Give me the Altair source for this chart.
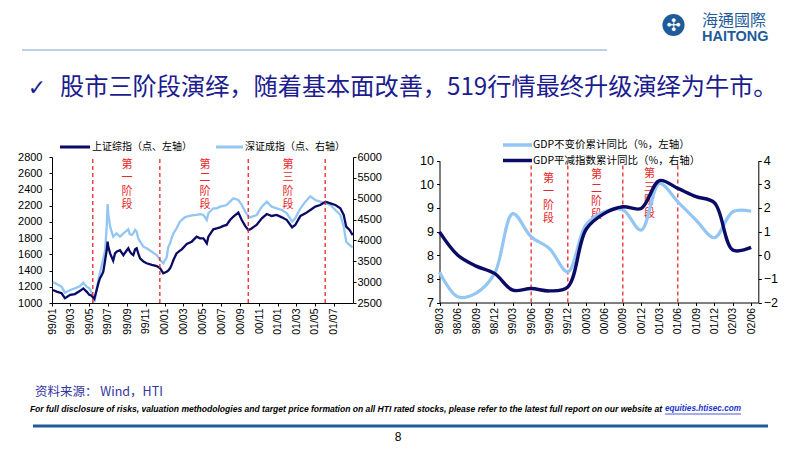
import json
import altair as alt
import pandas as pd

W, H = 786, 435
M = 8  # page margin: reference pixel -> chart pixel

NAVY = "#0B0B66"
LIGHT = "#93C6F2"
RED = "#E8282B"
TITLE_BLUE = "#1C1C8F"
LOGO_BLUE = "#1F5B99"
CJK = "Noto Sans CJK SC"
LAT = "Liberation Sans"

# ---------------- left chart data ----------------
l_dates = ["1999-01-04","1999-01-16","1999-02-01","1999-02-12","1999-03-01","1999-03-16","1999-04-02","1999-04-12","1999-04-23","1999-05-02",
           "1999-05-09","1999-05-18","1999-05-31","1999-06-05","1999-06-11","1999-06-16","1999-06-22","1999-06-27","1999-06-30","1999-07-02",
           "1999-07-08","1999-07-18","1999-07-24","1999-07-29","1999-08-09","1999-08-20","1999-08-31","1999-09-05","1999-09-10","1999-09-16",
           "1999-09-21","1999-09-27","1999-10-02","1999-10-07","1999-10-13","1999-10-24","1999-11-03","1999-11-20","1999-12-06","1999-12-17",
           "1999-12-27","2000-01-07","2000-01-12","2000-01-18","2000-01-23","2000-01-29","2000-02-08","2000-02-19","2000-02-25","2000-03-06",
           "2000-03-12","2000-03-28","2000-04-13","2000-04-24","2000-05-05","2000-05-16","2000-05-21","2000-06-06","2000-06-17","2000-06-28",
           "2000-07-09","2000-07-19","2000-07-30","2000-08-10","2000-08-26","2000-09-06","2000-09-17","2000-09-27","2000-10-03","2000-10-24",
           "2000-11-10","2000-11-26","2000-12-12","2000-12-28","2001-01-14","2001-01-30","2001-02-16","2001-02-26","2001-03-15","2001-03-31",
           "2001-04-16","2001-05-02","2001-05-18","2001-06-04","2001-06-20","2001-07-06","2001-07-22","2001-08-02","2001-08-10","2001-08-21",
           "2001-08-31"]
sh_index = [1160,1140,1120,1058,1100,1110,1150,1180,1140,1100,
            1090,1050,1242,1304,1345,1386,1530,1650,1756,1695,
            1612,1522,1612,1633,1650,1590,1650,1675,1633,1604,
            1590,1662,1675,1612,1550,1510,1490,1470,1456,1427,
            1366,1386,1400,1427,1470,1530,1612,1645,1662,1703,
            1727,1756,1818,1797,1797,1735,1818,1908,1920,1933,
            1950,1962,2023,2064,2114,2023,1950,1900,1908,1962,
            2044,2097,2073,2085,2056,2023,1933,1962,2073,2105,
            2147,2188,2208,2249,2229,2208,2167,2085,1941,1900,
            1838]
sz_index = [3000,2955,2892,2748,2812,2852,2907,2987,2892,2852,
            2760,2520,3051,3211,3411,3570,3771,4330,4873,4650,
            4330,4090,4130,4170,4090,4170,4234,4266,4146,4130,
            4170,4250,4210,4050,3970,3850,3810,3730,3650,3530,
            3450,3595,3835,3930,4050,4170,4290,4450,4490,4553,
            4570,4600,4610,4630,4610,4490,4650,4770,4770,4810,
            4826,4850,4930,5010,4970,4850,4690,4586,4553,4610,
            4810,4930,4810,4770,4730,4650,4450,4530,4770,4930,
            5060,4970,4930,4890,4850,4730,4610,4330,3970,3890,
            3835]
assert len(l_dates) == len(sh_index) == len(sz_index)

l_stage_lines = ["1999-05-13", "1999-12-16", "2000-09-27", "2001-06-03"]
l_stage_text_dates = ["1999-09-01", "2000-05-10", "2001-02-03"]
stage_names = ["第一阶段", "第二阶段", "第三阶段"]
l_legend = ["上证综指（点、左轴）", "深证成指（点、右轴）"]

# ---------------- right chart data ----------------
r_quarters = ["98/03","98/06","98/09","98/12","99/03","99/06","99/09","99/12","00/03",
              "00/06","00/09","00/12","01/03","01/06","01/09","01/12","02/03","02/06"]
gdp_real = [7.64, 7.12, 7.20, 7.61, 8.88, 8.39, 8.14, 7.65, 8.65,
            8.92, 8.96, 8.53, 9.52, 9.13, 8.74, 8.37, 8.92, 8.93]
gdp_deflator = [0.99, 0.0, -0.46, -0.77, -1.48, -1.41, -1.51, -1.34, 1.10,
                1.77, 2.05, 1.98, 3.16, 2.83, 2.48, 2.22, 0.22, 0.33]
r_stage_lines = [5, 7, 10, 13]
r_stage_text_pos = [5.94, 8.57, 11.45]
r_stage_text_top = [9.74, 9.82, 9.84]
r_legend = ["GDP不变价累计同比（%，左轴）", "GDP平减指数累计同比（%，右轴）"]

# ---------------- slide texts ----------------
title_text = "股市三阶段演绎，随着基本面改善，519行情最终升级演绎为牛市。"
check_mark = "✓"
source_text = "资料来源： Wind，HTI"
disclaimer_text = ("For full disclosure of risks, valuation methodologies and target price formation "
                   "on all HTI rated stocks, please refer to the latest full report on our website at")
link_text = "equities.htisec.com"
page_no = "8"
logo_cn = "海通國際"
logo_en = "HAITONG"

# ---------------- panel geometry (chart px) ----------------
LX0, LX1, LYB, LYT = 52 - M, 353 - M, 303 - M, 157 - M
RX0, RX1, RYB, RYT = 439.5 - M, 758.3 - M, 302.5 - M, 160.7 - M


def utc(s):
    y, m, d = (int(v) for v in s.split("-"))
    return alt.DateTime(year=y, month=m, date=d, utc=True)


xL = alt.Scale(type="utc", domain=[utc("1999-01-01"), utc("2001-09-01")], range=[LX0, LX1])
yL = alt.Scale(domain=[1000, 2800], range=[LYB, LYT], nice=False, zero=False)
yL2 = alt.Scale(domain=[2500, 6000], range=[LYB, LYT], nice=False, zero=False)
xR = alt.Scale(domain=[0, (RX1 - RX0) / 18.33], range=[RX0, RX1], nice=False, zero=False)
yR = alt.Scale(domain=[7, 10], range=[RYB, RYT], nice=False, zero=False)
yR2 = alt.Scale(domain=[-2, 4], range=[RYB, RYT], nice=False, zero=False)

axis_style = dict(grid=False, title=None, domainColor="black", tickColor="black",
                  labelColor="black", labelFont=LAT, labelOverlap=False, labelFlush=False,
                  tickSize=3)

ax_xL = alt.Axis(orient="bottom", offset=-(H - LYB),
                 values=[alt.DateTime(year=1999 + (k // 6), month=(k % 6) * 2 + 1, date=1, utc=True)
                         for k in range(16)],
                 labelExpr="utcFormat(datum.value, '%y/%m')", labelAngle=-90, labelFontSize=10.5,
                 labelPadding=2, **axis_style)
ax_yL = alt.Axis(orient="left", offset=-LX0, values=list(range(1000, 2801, 200)), format="d",
                 labelFontSize=11, labelPadding=7, **axis_style)
ax_yL2 = alt.Axis(orient="right", offset=-(W - LX1), values=list(range(2500, 6001, 500)), format="d",
                  labelFontSize=11, labelPadding=1, **axis_style)
ax_xR = alt.Axis(orient="bottom", offset=-(H - RYB), values=list(range(len(r_quarters))),
                 labelExpr=json.dumps(r_quarters) + "[datum.value]", labelAngle=-90,
                 labelFontSize=10.5, labelPadding=2, **axis_style)
ax_yR = alt.Axis(orient="left", offset=-RX0, values=[7, 7.5, 8, 8.5, 9, 9.5, 10], format=".0f",
                 labelFontSize=12.5, labelPadding=3, **axis_style)
ax_yR2 = alt.Axis(orient="right", offset=-(W - RX1), values=[-2, -1, 0, 1, 2, 3, 4], format="d",
                  labelFontSize=12.5, labelPadding=2, **axis_style)

dfL = pd.DataFrame({"date": l_dates, "sh": sh_index, "sz": sz_index})
dfR = pd.DataFrame({"i": list(range(len(r_quarters))), "real": gdp_real, "defl": gdp_deflator})

layers = []

# left chart
layers.append(alt.Chart(dfL).mark_line(color=LIGHT, strokeWidth=2.3).encode(
    x=alt.X("date:T", scale=xL, axis=None),
    y=alt.Y("sz:Q", scale=yL2, axis=ax_yL2)))
layers.append(alt.Chart(dfL).mark_line(color=NAVY, strokeWidth=2.3).encode(
    x=alt.X("date:T", scale=xL, axis=ax_xL),
    y=alt.Y("sh:Q", scale=yL, axis=ax_yL)))
layers.append(alt.Chart(pd.DataFrame({"d": l_stage_lines, "lo": [1000] * 4, "hi": [2800] * 4}))
              .mark_rule(color=RED, strokeDash=[4, 3], strokeWidth=1.3).encode(
    x=alt.X("d:T", scale=xL, axis=None),
    y=alt.Y("lo:Q", scale=yL, axis=None), y2="hi:Q"))
layers.append(alt.Chart(pd.DataFrame({"d": l_stage_text_dates,
                                      "t": ["\n".join(s) for s in stage_names],
                                      "v": [2780] * 3}))
              .mark_text(color=RED, font=CJK, fontSize=11, lineBreak="\n", lineHeight=13.5,
                         baseline="top", align="center").encode(
    x=alt.X("d:T", scale=xL, axis=None),
    y=alt.Y("v:Q", scale=yL, axis=None), text="t:N"))

# right chart
layers.append(alt.Chart(pd.DataFrame({"i": r_stage_lines, "lo": [7] * 4, "hi": [9.93] * 4}))
              .mark_rule(color=RED, strokeDash=[4, 3], strokeWidth=1.3).encode(
    x=alt.X("i:Q", scale=xR, axis=None),
    y=alt.Y("lo:Q", scale=yR, axis=None), y2="hi:Q"))
layers.append(alt.Chart(pd.DataFrame({"i": r_stage_text_pos,
                                      "t": ["\n".join(s) for s in stage_names],
                                      "v": r_stage_text_top}))
              .mark_text(color=RED, font=CJK, fontSize=11, lineBreak="\n", lineHeight=13.3,
                         baseline="top", align="center").encode(
    x=alt.X("i:Q", scale=xR, axis=None),
    y=alt.Y("v:Q", scale=yR, axis=None), text="t:N"))
layers.append(alt.Chart(dfR).mark_line(color=LIGHT, strokeWidth=3.2, interpolate="catmull-rom").encode(
    x=alt.X("i:Q", scale=xR, axis=ax_xR),
    y=alt.Y("real:Q", scale=yR, axis=ax_yR)))
layers.append(alt.Chart(dfR).mark_line(color=NAVY, strokeWidth=3.4, interpolate="catmull-rom").encode(
    x=alt.X("i:Q", scale=xR, axis=None),
    y=alt.Y("defl:Q", scale=yR2, axis=ax_yR2)))


def txt(text, x, y, size, color, font=CJK, align="left", baseline="middle", **kw):
    return alt.Chart(pd.DataFrame({"t": [text]})).mark_text(
        fontSize=size, color=color, font=font, align=align, baseline=baseline, **kw).encode(
        x=alt.value(x - M), y=alt.value(y - M), text="t:N")


def hline(x0, x1, y, color, width):
    return alt.Chart(pd.DataFrame({"k": [0]})).mark_rule(color=color, strokeWidth=width).encode(
        x=alt.value(x0 - M), x2=alt.value(x1 - M), y=alt.value(y - M))


# legends
layers += [hline(60, 90, 147, NAVY, 3), txt(l_legend[0], 92, 147, 10, "black"),
           hline(216, 243, 147, LIGHT, 3), txt(l_legend[1], 245, 147, 10, "black"),
           hline(503, 532, 145, LIGHT, 3.5), txt(r_legend[0], 533, 145, 10.5, "black"),
           hline(503, 532, 160.5, NAVY, 3.5), txt(r_legend[1], 533, 160.5, 10.5, "black")]

# slide decorations
layers += [hline(22, 607, 50, "#7F9FCF", 1),
           txt(check_mark, 37, 88, 22, TITLE_BLUE, font="DejaVu Sans", align="center", fontWeight="bold"),
           txt(title_text, 60, 88, 24.2, TITLE_BLUE),
           txt(source_text, 35, 392, 12.5, "#3333A0"),
           txt(disclaimer_text, 662, 409, 8.55, "black", font=LAT, align="right",
               fontStyle="italic", fontWeight="bold"),
           txt(link_text, 665, 409, 8.2, "#1A33CC", font=LAT, fontStyle="italic", fontWeight="bold"),
           hline(665, 741, 414, "#1A33CC", 0.8),
           hline(33, 768, 426, LOGO_BLUE, 2.8),
           txt(page_no, 398, 437, 12, "black", font=LAT, align="center"),
           ]

# logo
layers.append(alt.Chart(pd.DataFrame({"k": [0]})).mark_point(
    filled=True, color=LOGO_BLUE, size=490, opacity=1).encode(
    x=alt.value(673.5 - M), y=alt.value(25 - M)))
layers += [txt("✣", 673.5, 25.5, 17, "white", font="DejaVu Sans", align="center"),
           txt(logo_cn, 702, 20.5, 16, LOGO_BLUE, font="Noto Sans CJK TC"),
           txt(logo_en, 702, 37, 14.5, LOGO_BLUE, font=LAT, fontWeight="bold")]

chart = alt.layer(*layers).resolve_scale(x="independent", y="independent").properties(
    width=W, height=H, padding=0, autosize=alt.AutoSizeParams(type="none"), background="white"
).configure_view(stroke=None)

chart.save("out.html", embed_options={"renderer": "svg", "actions": False})
